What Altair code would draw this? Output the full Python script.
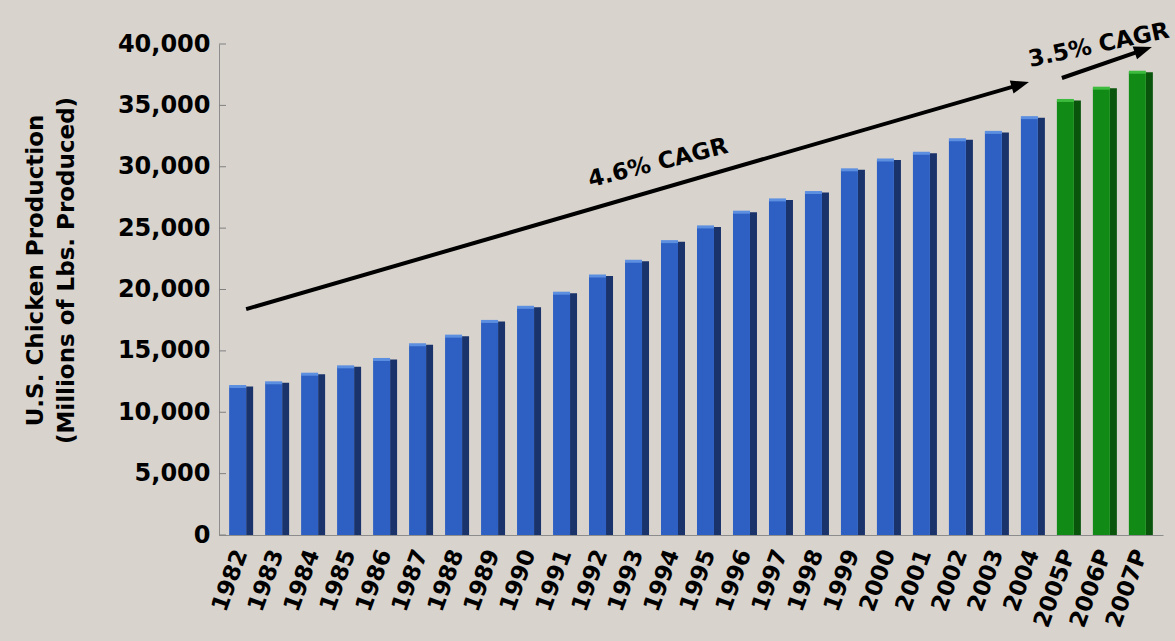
import altair as alt
import pandas as pd

# U.S. chicken production, millions of lbs (P = projected)
years = ["1982", "1983", "1984", "1985", "1986", "1987", "1988", "1989", "1990",
         "1991", "1992", "1993", "1994", "1995", "1996", "1997", "1998", "1999",
         "2000", "2001", "2002", "2003", "2004", "2005P", "2006P", "2007P"]
production = [12100, 12400, 13100, 13700, 14300, 15500, 16200, 17400, 18550,
              19700, 21100, 22300, 23900, 25100, 26300, 27300, 27900, 29750,
              30550, 31100, 32200, 32800, 34000, 35400, 36400, 37700]
status = ["Actual"] * 23 + ["Projected"] * 3

y_ticks = [0, 5000, 10000, 15000, 20000, 25000, 30000, 35000, 40000]

# growth-rate annotations
cagr_labels = ["4.6% CAGR", "3.5% CAGR"]
arrow_from_year = ["1982", "2005P"]
arrow_to_year = ["2004", "2007P"]
arrow_from_value = [18400, 37230]
arrow_to_value = [36900, 39750]
label_year = ["1994", "2006P"]
label_value = [30300, 39900]

FONT = "DejaVu Sans"
BLUE, BLUE_SIDE, BLUE_TOP = "#2d60c2", "#1a336b", "#5d8fe0"
GREEN, GREEN_SIDE, GREEN_TOP = "#118b16", "#0a550c", "#3dbb3f"

df = pd.DataFrame({"year": years, "value": production, "status": status})

x_scale = alt.Scale(domain=years, paddingInner=0.33, paddingOuter=0.28)
y_scale = alt.Scale(domain=[0, 40000], nice=False, zero=True)

x_axis = alt.Axis(title=None, labelAngle=-70, labelAlign="right", labelBaseline="middle",
                  labelPadding=15, labelFont=FONT, labelFontSize=23, labelFontWeight="bold",
                  labelColor="black", tickSize=0, domainColor="#8c8c8c", domainWidth=1,
                  grid=False, labelOverlap=False)
y_axis = alt.Axis(values=y_ticks, format=",.0f", title=["U.S. Chicken Production",
                                                        "(Millions of Lbs. Produced)"],
                  labelFont=FONT, labelFontSize=24, labelFontWeight="bold", labelColor="black",
                  labelPadding=9, tickSize=0, domainColor="#8c8c8c", domainWidth=1, grid=False,
                  titleFont=FONT, titleFontSize=23, titleFontWeight="bold", titleColor="black",
                  titleAngle=270, titleAlign="center", titleBaseline="middle",
                  titleLineHeight=31, titleX=-184, titleY=226, labelOverlap=False)

is_proj = alt.datum.status == "Projected"
base = alt.Chart(df)

# dark side face of each column (carries both axes)
side = base.mark_bar(size=7, xOffset=8.5).encode(
    x=alt.X("year:N", scale=x_scale, axis=x_axis),
    y=alt.Y("value:Q", scale=y_scale, axis=y_axis),
    color=alt.condition(is_proj, alt.value(GREEN_SIDE), alt.value(BLUE_SIDE)),
)
front = base.mark_bar(size=17, xOffset=-3.5).encode(
    x=alt.X("year:N", scale=x_scale),
    y=alt.Y("value:Q", scale=y_scale),
    color=alt.condition(is_proj, alt.value(GREEN), alt.value(BLUE)),
)
rim = base.mark_tick(size=17, thickness=3, xOffset=-3.5, opacity=1).encode(
    x=alt.X("year:N", scale=x_scale),
    y=alt.Y("value:Q", scale=y_scale),
    color=alt.condition(is_proj, alt.value(GREEN_TOP), alt.value(BLUE_TOP)),
)

# short inward tick marks on the value axis
ticks = alt.Chart(pd.DataFrame({"v": y_ticks})).mark_rule(color="#808080", strokeWidth=1).encode(
    y=alt.Y("v:Q", scale=y_scale),
    x=alt.value(0), x2=alt.value(7),
)

ann = pd.DataFrame({
    "label": cagr_labels, "x0": arrow_from_year, "x1": arrow_to_year,
    "y0": arrow_from_value, "y1": arrow_to_value, "lx": label_year, "ly": label_value,
})
HEAD = "M-1,-0.75 L1,0 L-1,0.75 Z"


def arrow(i, x0_off, x1_off, head_dx, head_dy, head_angle, text_off, text_angle):
    d = alt.Chart(ann.iloc[[i]])
    shaft = d.mark_rule(color="black", strokeWidth=4, xOffset=x0_off,
                        x2Offset=x1_off + head_dx, y2Offset=head_dy).encode(
        x=alt.X("x0:N", scale=x_scale), x2="x1:N",
        y=alt.Y("y0:Q", scale=y_scale), y2="y1:Q",
    )
    head = d.mark_point(shape=HEAD, size=324, filled=True, color="black", opacity=1,
                        strokeWidth=0, angle=head_angle, xOffset=x1_off + head_dx,
                        yOffset=head_dy).encode(
        x=alt.X("x1:N", scale=x_scale),
        y=alt.Y("y1:Q", scale=y_scale),
    )
    text = d.mark_text(font=FONT, fontSize=23, fontWeight="bold", color="black",
                       align="center", baseline="middle", angle=text_angle,
                       xOffset=text_off).encode(
        x=alt.X("lx:N", scale=x_scale),
        y=alt.Y("ly:Q", scale=y_scale),
        text="label:N",
    )
    return shaft + head + text


arrow_long = arrow(0, 5, -4, -8.6, 2.5, 344, -15, 346)
arrow_short = arrow(1, -7, 11, -8.5, 2.9, 341, -6, 348)

chart = alt.layer(side, front, rim, ticks, arrow_long, arrow_short).properties(
    width=944, height=491,
    padding={"left": 219, "top": 44, "right": 12, "bottom": 106},
    autosize=alt.AutoSizeParams(type="none"),
    background="#d8d3cd",
).configure_view(stroke=None)

chart.save("out.html", embed_options={"renderer": "svg", "actions": False})
